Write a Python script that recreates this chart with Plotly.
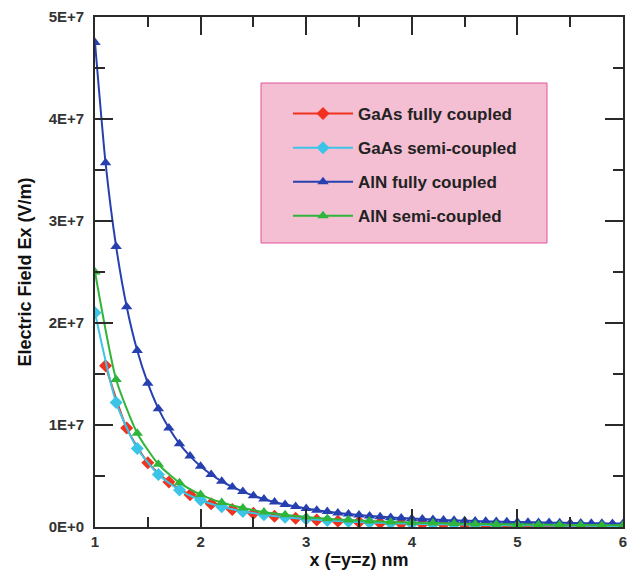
import plotly.graph_objects as go

# ---- data ----
x_blue = [1.0, 1.1, 1.2, 1.3, 1.4, 1.5, 1.6, 1.7, 1.8, 1.9, 2.0, 2.1, 2.2, 2.3, 2.4, 2.5, 2.6, 2.7,
          2.8, 2.9, 3.0, 3.1, 3.2, 3.3, 3.4, 3.5, 3.6, 3.7, 3.8, 3.9, 4.0, 4.1, 4.2, 4.3, 4.4, 4.5,
          4.6, 4.7, 4.8, 4.9, 5.0, 5.1, 5.2, 5.3, 5.4, 5.5, 5.6, 5.7, 5.8, 5.9, 6.0]
aln_fully = [4.75e7, 3.57e7, 2.75e7, 2.16e7, 1.73e7, 1.41e7, 1.16e7, 0.97e7, 0.815e7, 0.695e7,
             0.595e7, 0.515e7, 0.448e7, 0.393e7, 0.347e7, 0.307e7, 0.274e7, 0.245e7, 0.221e7,
             0.200e7, 0.181e7, 0.165e7, 0.151e7, 0.138e7, 0.127e7, 0.117e7, 0.108e7, 0.101e7,
             0.094e7, 0.088e7, 0.083e7, 0.078e7, 0.073e7, 0.069e7, 0.065e7, 0.062e7, 0.059e7,
             0.056e7, 0.053e7, 0.051e7, 0.049e7, 0.047e7, 0.045e7, 0.043e7, 0.041e7, 0.040e7,
             0.038e7, 0.037e7, 0.036e7, 0.035e7, 0.034e7]

x_even = [1.0, 1.2, 1.4, 1.6, 1.8, 2.0, 2.2, 2.4, 2.6, 2.8, 3.0, 3.2, 3.4, 3.6, 3.8, 4.0, 4.2,
          4.4, 4.6, 4.8, 5.0, 5.2, 5.4, 5.6, 5.8, 6.0]
aln_semi = [2.50e7, 1.447e7, 0.92e7, 0.615e7, 0.435e7, 0.318e7, 0.240e7, 0.186e7, 0.147e7,
            0.119e7, 0.098e7, 0.081e7, 0.068e7, 0.058e7, 0.050e7, 0.043e7, 0.038e7, 0.034e7,
            0.030e7, 0.027e7, 0.025e7, 0.023e7, 0.021e7, 0.019e7, 0.018e7, 0.017e7]
gaas_semi = [2.10e7, 1.22e7, 0.77e7, 0.515e7, 0.362e7, 0.264e7, 0.198e7, 0.153e7, 0.120e7,
             0.096e7, 0.078e7, 0.064e7, 0.053e7, 0.045e7, 0.038e7, 0.033e7, 0.028e7, 0.025e7,
             0.022e7, 0.019e7, 0.017e7, 0.015e7, 0.013e7, 0.012e7, 0.011e7, 0.010e7]

x_odd = [1.1, 1.3, 1.5, 1.7, 1.9, 2.1, 2.3, 2.5, 2.7, 2.9, 3.1, 3.3, 3.5, 3.7, 3.9, 4.1, 4.3,
         4.5, 4.7, 4.9, 5.1, 5.3, 5.5, 5.7, 5.9]
gaas_fully = [1.58e7, 0.97e7, 0.63e7, 0.44e7, 0.315e7, 0.228e7, 0.172e7, 0.134e7, 0.105e7,
              0.085e7, 0.069e7, 0.057e7, 0.048e7, 0.040e7, 0.034e7, 0.030e7, 0.026e7, 0.023e7,
              0.020e7, 0.018e7, 0.016e7, 0.014e7, 0.013e7, 0.011e7, 0.010e7]

y_tickvals = [0, 1e7, 2e7, 3e7, 4e7, 5e7]
y_ticktext = ["0E+0", "1E+7", "2E+7", "3E+7", "4E+7", "5E+7"]
x_tickvals = [1, 2, 3, 4, 5, 6]

names = ["GaAs fully coupled", "GaAs semi-coupled", "AlN fully coupled", "AlN semi-coupled"]
colors = ["#f0321e", "#3cc4e6", "#2740b0", "#2fb53a"]

FONT = "Liberation Sans"

fig = go.Figure()
series = [
    (x_odd, gaas_fully, "diamond", 10),
    (x_even, gaas_semi, "diamond", 10),
    (x_blue, aln_fully, "triangle-up", 10),
    (x_even, aln_semi, "triangle-up", 10),
]
for i, (xs, ys, sym, sz) in enumerate(series):
    fig.add_trace(go.Scatter(
        x=xs, y=ys, name=names[i], mode="lines+markers",
        line=dict(color=colors[i], width=2, shape="spline", smoothing=0.6),
        marker=dict(symbol=sym, size=sz, color=colors[i]),
        legendgroup=str(i),
    ))

# page has an 8px body margin: size the figure so the plot box lands where the reference has it
W, H = 628, 566
L, R, T, B = 87, 13, 9, 47
# plot box in page pixels: left 95, right 623, top 17, bottom 527
PL, PT, PW, PH = 95, 17, 528, 510

def px_x(p):
    return (p - PL) / PW

def px_y(p):
    return 1 - (p - PT) / PH

# pink legend box
fig.add_shape(type="rect", xref="paper", yref="paper",
              x0=px_x(261), x1=px_x(547), y0=px_y(243), y1=px_y(83),
              fillcolor="#f5bfd3", line=dict(color="#e2529c", width=1), layer="below")

axis_common = dict(
    showgrid=False, zeroline=False, showline=True, linecolor="#2a2a2a", linewidth=1.8,
    mirror="allticks", ticks="inside", ticklen=18, tickwidth=1.8, tickcolor="#2a2a2a",
    tickfont=dict(family=FONT, size=15, color="#333", weight="bold"),
    automargin=False, ticklabeloverflow="allow",
)

fig.update_xaxes(
    range=[1, 6], tickvals=x_tickvals,
    minor=dict(ticks="inside", ticklen=10, tickwidth=1.8, tickcolor="#2a2a2a", dtick=0.5, tick0=1),
    title=dict(text="x (=y=z) nm", font=dict(family=FONT, size=18, color="#111", weight="bold"),
               standoff=4),
    **axis_common,
)
fig.update_yaxes(
    range=[0, 5e7], tickvals=y_tickvals, ticktext=y_ticktext, ticklabelstandoff=6,
    minor=dict(ticks="inside", ticklen=10, tickwidth=1.8, tickcolor="#2a2a2a", dtick=5e6, tick0=0),
    title=dict(text="Electric Field Ex (V/m)", font=dict(family=FONT, size=18, color="#111", weight="bold"),
               standoff=12),
    **axis_common,
)

fig.update_layout(
    width=W, height=H,
    margin=dict(l=L, r=R, t=T, b=B),
    paper_bgcolor="white", plot_bgcolor="white",
    showlegend=True,
    legend=dict(
        x=px_x(288), y=px_y(96), xanchor="left", yanchor="top",
        bgcolor="rgba(0,0,0,0)", borderwidth=0,
        font=dict(family=FONT, size=17, color="#222", weight="bold"),
        traceorder="grouped", tracegroupgap=9, itemwidth=60,
    ),
)

fig.write_html("out.html")
